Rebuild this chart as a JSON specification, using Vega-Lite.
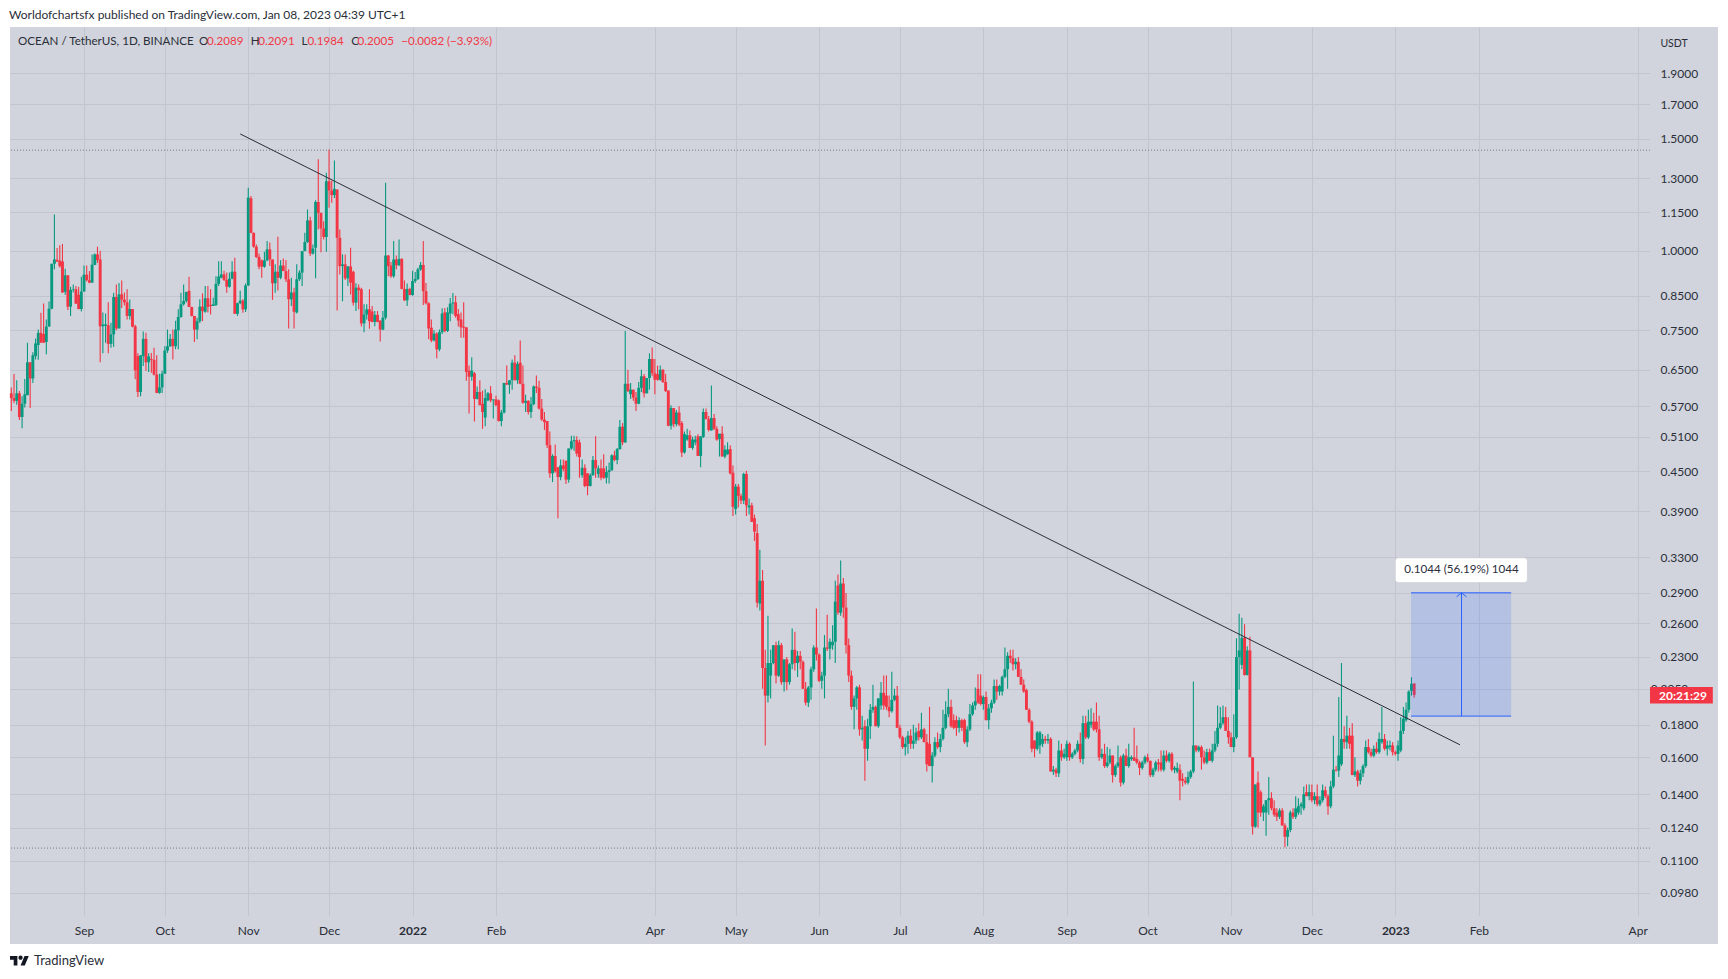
{
"$schema":"https://vega.github.io/schema/vega-lite/v6.json",
"width":1640,"height":889,"autosize":{"type":"none"},
"padding":{"left":10,"top":27,"right":78,"bottom":63},
"background":"#ffffff",
"view":{"fill":"#d1d4dc","stroke":null},
"config":{"font":"Lato","text":{"font":"Lato"}},
"resolve":{"axis":{"x":"independent","y":"independent"}},
"datasets":{"candles":[
{"d":"2021-08-05","o":0.597,"h":0.61,"l":0.56,"c":0.587},
{"d":"2021-08-06","o":0.587,"h":0.64,"l":0.576,"c":0.581},
{"d":"2021-08-07","o":0.581,"h":0.626,"l":0.573,"c":0.597},
{"d":"2021-08-08","o":0.597,"h":0.602,"l":0.542,"c":0.548},
{"d":"2021-08-09","o":0.548,"h":0.591,"l":0.526,"c":0.575},
{"d":"2021-08-10","o":0.575,"h":0.629,"l":0.567,"c":0.595},
{"d":"2021-08-11","o":0.593,"h":0.717,"l":0.593,"c":0.668},
{"d":"2021-08-12","o":0.668,"h":0.668,"l":0.566,"c":0.63},
{"d":"2021-08-13","o":0.63,"h":0.693,"l":0.62,"c":0.685},
{"d":"2021-08-14","o":0.683,"h":0.728,"l":0.675,"c":0.715},
{"d":"2021-08-15","o":0.711,"h":0.752,"l":0.674,"c":0.743},
{"d":"2021-08-16","o":0.743,"h":0.799,"l":0.717,"c":0.717},
{"d":"2021-08-17","o":0.74,"h":0.826,"l":0.717,"c":0.717},
{"d":"2021-08-18","o":0.719,"h":0.78,"l":0.688,"c":0.76},
{"d":"2021-08-19","o":0.76,"h":0.832,"l":0.76,"c":0.811},
{"d":"2021-08-20","o":0.811,"h":0.954,"l":0.809,"c":0.954},
{"d":"2021-08-21","o":0.954,"h":1.14,"l":0.935,"c":0.969},
{"d":"2021-08-22","o":0.968,"h":1.01,"l":0.96,"c":0.962},
{"d":"2021-08-23","o":0.965,"h":1.02,"l":0.94,"c":0.946},
{"d":"2021-08-24","o":0.962,"h":1.025,"l":0.859,"c":0.86},
{"d":"2021-08-25","o":0.862,"h":0.937,"l":0.853,"c":0.915},
{"d":"2021-08-26","o":0.915,"h":0.915,"l":0.807,"c":0.817},
{"d":"2021-08-27","o":0.817,"h":0.878,"l":0.79,"c":0.868},
{"d":"2021-08-28","o":0.868,"h":0.885,"l":0.86,"c":0.87},
{"d":"2021-08-29","o":0.87,"h":0.88,"l":0.825,"c":0.826},
{"d":"2021-08-30","o":0.853,"h":0.878,"l":0.809,"c":0.81},
{"d":"2021-08-31","o":0.81,"h":0.91,"l":0.803,"c":0.863},
{"d":"2021-09-01","o":0.863,"h":0.948,"l":0.863,"c":0.917},
{"d":"2021-09-02","o":0.917,"h":0.948,"l":0.895,"c":0.899},
{"d":"2021-09-03","o":0.899,"h":0.929,"l":0.889,"c":0.891},
{"d":"2021-09-04","o":0.891,"h":0.987,"l":0.891,"c":0.951},
{"d":"2021-09-05","o":0.95,"h":0.99,"l":0.949,"c":0.987},
{"d":"2021-09-06","o":0.987,"h":1.015,"l":0.957,"c":0.967},
{"d":"2021-09-07","o":0.969,"h":1.0,"l":0.668,"c":0.761},
{"d":"2021-09-08","o":0.761,"h":0.8,"l":0.69,"c":0.766},
{"d":"2021-09-09","o":0.762,"h":0.797,"l":0.717,"c":0.766},
{"d":"2021-09-10","o":0.764,"h":0.83,"l":0.69,"c":0.714},
{"d":"2021-09-11","o":0.714,"h":0.771,"l":0.704,"c":0.739},
{"d":"2021-09-12","o":0.739,"h":0.859,"l":0.706,"c":0.846},
{"d":"2021-09-13","o":0.846,"h":0.885,"l":0.75,"c":0.755},
{"d":"2021-09-14","o":0.755,"h":0.89,"l":0.755,"c":0.854},
{"d":"2021-09-15","o":0.854,"h":0.898,"l":0.813,"c":0.838},
{"d":"2021-09-16","o":0.838,"h":0.86,"l":0.82,"c":0.83},
{"d":"2021-09-17","o":0.83,"h":0.87,"l":0.78,"c":0.79},
{"d":"2021-09-18","o":0.79,"h":0.838,"l":0.78,"c":0.81},
{"d":"2021-09-19","o":0.81,"h":0.81,"l":0.758,"c":0.76},
{"d":"2021-09-20","o":0.761,"h":0.765,"l":0.628,"c":0.649},
{"d":"2021-09-21","o":0.683,"h":0.69,"l":0.589,"c":0.6},
{"d":"2021-09-22","o":0.6,"h":0.685,"l":0.591,"c":0.685},
{"d":"2021-09-23","o":0.683,"h":0.747,"l":0.659,"c":0.727},
{"d":"2021-09-24","o":0.727,"h":0.743,"l":0.648,"c":0.668},
{"d":"2021-09-25","o":0.668,"h":0.69,"l":0.645,"c":0.682},
{"d":"2021-09-26","o":0.676,"h":0.691,"l":0.643,"c":0.674},
{"d":"2021-09-27","o":0.674,"h":0.704,"l":0.637,"c":0.639},
{"d":"2021-09-28","o":0.639,"h":0.685,"l":0.597,"c":0.598},
{"d":"2021-09-29","o":0.598,"h":0.641,"l":0.596,"c":0.61},
{"d":"2021-09-30","o":0.61,"h":0.648,"l":0.598,"c":0.641},
{"d":"2021-10-01","o":0.641,"h":0.708,"l":0.641,"c":0.697},
{"d":"2021-10-02","o":0.697,"h":0.752,"l":0.691,"c":0.708},
{"d":"2021-10-03","o":0.708,"h":0.74,"l":0.706,"c":0.727},
{"d":"2021-10-04","o":0.727,"h":0.752,"l":0.675,"c":0.708},
{"d":"2021-10-05","o":0.708,"h":0.776,"l":0.7,"c":0.752},
{"d":"2021-10-06","o":0.75,"h":0.809,"l":0.7,"c":0.787},
{"d":"2021-10-07","o":0.787,"h":0.859,"l":0.785,"c":0.824},
{"d":"2021-10-08","o":0.824,"h":0.885,"l":0.82,"c":0.834},
{"d":"2021-10-09","o":0.834,"h":0.86,"l":0.829,"c":0.862},
{"d":"2021-10-10","o":0.865,"h":0.91,"l":0.816,"c":0.816},
{"d":"2021-10-11","o":0.816,"h":0.817,"l":0.788,"c":0.79},
{"d":"2021-10-12","o":0.79,"h":0.79,"l":0.719,"c":0.752},
{"d":"2021-10-13","o":0.752,"h":0.785,"l":0.726,"c":0.775},
{"d":"2021-10-14","o":0.775,"h":0.839,"l":0.77,"c":0.817},
{"d":"2021-10-15","o":0.817,"h":0.857,"l":0.775,"c":0.804},
{"d":"2021-10-16","o":0.802,"h":0.88,"l":0.799,"c":0.842},
{"d":"2021-10-17","o":0.842,"h":0.88,"l":0.8,"c":0.816},
{"d":"2021-10-18","o":0.822,"h":0.87,"l":0.794,"c":0.819},
{"d":"2021-10-19","o":0.819,"h":0.844,"l":0.819,"c":0.824},
{"d":"2021-10-20","o":0.822,"h":0.912,"l":0.819,"c":0.887},
{"d":"2021-10-21","o":0.887,"h":0.963,"l":0.88,"c":0.911},
{"d":"2021-10-22","o":0.907,"h":0.963,"l":0.905,"c":0.918},
{"d":"2021-10-23","o":0.918,"h":0.93,"l":0.896,"c":0.9},
{"d":"2021-10-24","o":0.9,"h":0.924,"l":0.859,"c":0.878},
{"d":"2021-10-25","o":0.878,"h":0.924,"l":0.875,"c":0.904},
{"d":"2021-10-26","o":0.904,"h":0.963,"l":0.902,"c":0.927},
{"d":"2021-10-27","o":0.927,"h":0.975,"l":0.796,"c":0.796},
{"d":"2021-10-28","o":0.796,"h":0.829,"l":0.79,"c":0.827},
{"d":"2021-10-29","o":0.827,"h":0.865,"l":0.824,"c":0.835},
{"d":"2021-10-30","o":0.835,"h":0.839,"l":0.799,"c":0.809},
{"d":"2021-10-31","o":0.809,"h":0.888,"l":0.801,"c":0.882},
{"d":"2021-11-01","o":0.882,"h":1.256,"l":0.88,"c":1.212},
{"d":"2021-11-02","o":1.209,"h":1.219,"l":1.065,"c":1.067},
{"d":"2021-11-03","o":1.067,"h":1.068,"l":1.011,"c":1.015},
{"d":"2021-11-04","o":1.015,"h":1.023,"l":0.975,"c":0.977},
{"d":"2021-11-05","o":0.978,"h":0.99,"l":0.935,"c":0.944},
{"d":"2021-11-06","o":0.966,"h":0.969,"l":0.907,"c":0.944},
{"d":"2021-11-07","o":0.944,"h":0.996,"l":0.94,"c":0.966},
{"d":"2021-11-08","o":0.966,"h":1.036,"l":0.963,"c":1.005},
{"d":"2021-11-09","o":1.005,"h":1.03,"l":0.946,"c":0.969},
{"d":"2021-11-10","o":0.969,"h":0.969,"l":0.837,"c":0.889},
{"d":"2021-11-11","o":0.889,"h":0.952,"l":0.859,"c":0.927},
{"d":"2021-11-12","o":0.927,"h":1.052,"l":0.866,"c":0.907},
{"d":"2021-11-13","o":0.907,"h":0.966,"l":0.902,"c":0.948},
{"d":"2021-11-14","o":0.948,"h":0.972,"l":0.929,"c":0.929},
{"d":"2021-11-15","o":0.929,"h":0.967,"l":0.893,"c":0.902},
{"d":"2021-11-16","o":0.902,"h":0.935,"l":0.755,"c":0.839},
{"d":"2021-11-17","o":0.839,"h":0.907,"l":0.819,"c":0.86},
{"d":"2021-11-18","o":0.86,"h":0.875,"l":0.755,"c":0.802},
{"d":"2021-11-19","o":0.8,"h":0.952,"l":0.797,"c":0.902},
{"d":"2021-11-20","o":0.902,"h":0.932,"l":0.896,"c":0.924},
{"d":"2021-11-21","o":0.924,"h":0.999,"l":0.88,"c":0.999},
{"d":"2021-11-22","o":0.999,"h":1.067,"l":0.998,"c":1.032},
{"d":"2021-11-23","o":1.032,"h":1.161,"l":1.029,"c":1.116},
{"d":"2021-11-24","o":1.116,"h":1.131,"l":0.981,"c":0.99},
{"d":"2021-11-25","o":0.99,"h":1.023,"l":0.987,"c":1.008},
{"d":"2021-11-26","o":1.011,"h":1.201,"l":0.905,"c":1.193},
{"d":"2021-11-27","o":1.193,"h":1.392,"l":1.08,"c":1.147},
{"d":"2021-11-28","o":1.147,"h":1.147,"l":0.995,"c":1.084},
{"d":"2021-11-29","o":1.084,"h":1.113,"l":1.042,"c":1.051},
{"d":"2021-11-30","o":1.051,"h":1.326,"l":0.996,"c":1.286},
{"d":"2021-12-01","o":1.286,"h":1.442,"l":1.168,"c":1.244},
{"d":"2021-12-02","o":1.244,"h":1.29,"l":1.19,"c":1.223},
{"d":"2021-12-03","o":1.223,"h":1.386,"l":1.21,"c":1.251},
{"d":"2021-12-04","o":1.248,"h":1.248,"l":0.806,"c":1.048},
{"d":"2021-12-05","o":1.048,"h":1.08,"l":0.918,"c":0.946},
{"d":"2021-12-06","o":0.946,"h":0.987,"l":0.833,"c":0.952},
{"d":"2021-12-07","o":0.952,"h":0.987,"l":0.9,"c":0.905},
{"d":"2021-12-08","o":0.905,"h":0.945,"l":0.88,"c":0.945},
{"d":"2021-12-09","o":0.945,"h":1.011,"l":0.854,"c":0.891},
{"d":"2021-12-10","o":0.927,"h":0.93,"l":0.82,"c":0.829},
{"d":"2021-12-11","o":0.829,"h":0.889,"l":0.804,"c":0.875},
{"d":"2021-12-12","o":0.875,"h":0.885,"l":0.809,"c":0.867},
{"d":"2021-12-13","o":0.87,"h":0.875,"l":0.76,"c":0.769},
{"d":"2021-12-14","o":0.769,"h":0.824,"l":0.745,"c":0.794},
{"d":"2021-12-15","o":0.794,"h":0.824,"l":0.78,"c":0.809},
{"d":"2021-12-16","o":0.809,"h":0.87,"l":0.754,"c":0.775},
{"d":"2021-12-17","o":0.803,"h":0.819,"l":0.772,"c":0.773},
{"d":"2021-12-18","o":0.773,"h":0.804,"l":0.761,"c":0.793},
{"d":"2021-12-19","o":0.793,"h":0.804,"l":0.772,"c":0.773},
{"d":"2021-12-20","o":0.777,"h":0.777,"l":0.72,"c":0.752},
{"d":"2021-12-21","o":0.752,"h":0.804,"l":0.75,"c":0.785},
{"d":"2021-12-22","o":0.785,"h":1.279,"l":0.78,"c":0.983},
{"d":"2021-12-23","o":0.983,"h":0.985,"l":0.912,"c":0.946},
{"d":"2021-12-24","o":0.948,"h":0.96,"l":0.907,"c":0.912},
{"d":"2021-12-25","o":0.912,"h":1.036,"l":0.907,"c":0.969},
{"d":"2021-12-26","o":0.969,"h":0.983,"l":0.935,"c":0.949},
{"d":"2021-12-27","o":0.949,"h":1.042,"l":0.946,"c":0.971},
{"d":"2021-12-28","o":0.971,"h":0.973,"l":0.87,"c":0.871},
{"d":"2021-12-29","o":0.871,"h":0.898,"l":0.834,"c":0.836},
{"d":"2021-12-30","o":0.836,"h":0.888,"l":0.819,"c":0.871},
{"d":"2021-12-31","o":0.871,"h":0.875,"l":0.851,"c":0.852},
{"d":"2022-01-01","o":0.852,"h":0.93,"l":0.85,"c":0.896},
{"d":"2022-01-02","o":0.896,"h":0.926,"l":0.89,"c":0.903},
{"d":"2022-01-03","o":0.903,"h":0.94,"l":0.9,"c":0.935},
{"d":"2022-01-04","o":0.935,"h":0.96,"l":0.93,"c":0.95},
{"d":"2022-01-05","o":0.95,"h":1.036,"l":0.822,"c":0.864},
{"d":"2022-01-06","o":0.864,"h":0.89,"l":0.823,"c":0.827},
{"d":"2022-01-07","o":0.827,"h":0.83,"l":0.726,"c":0.755},
{"d":"2022-01-08","o":0.757,"h":0.78,"l":0.718,"c":0.723},
{"d":"2022-01-09","o":0.723,"h":0.75,"l":0.72,"c":0.741},
{"d":"2022-01-10","o":0.741,"h":0.745,"l":0.678,"c":0.7},
{"d":"2022-01-11","o":0.7,"h":0.752,"l":0.695,"c":0.745},
{"d":"2022-01-12","o":0.745,"h":0.812,"l":0.74,"c":0.797},
{"d":"2022-01-13","o":0.8,"h":0.813,"l":0.745,"c":0.748},
{"d":"2022-01-14","o":0.748,"h":0.815,"l":0.745,"c":0.8},
{"d":"2022-01-15","o":0.797,"h":0.843,"l":0.775,"c":0.826},
{"d":"2022-01-16","o":0.826,"h":0.858,"l":0.795,"c":0.829},
{"d":"2022-01-17","o":0.83,"h":0.85,"l":0.785,"c":0.79},
{"d":"2022-01-18","o":0.795,"h":0.81,"l":0.76,"c":0.777},
{"d":"2022-01-19","o":0.78,"h":0.8,"l":0.73,"c":0.758},
{"d":"2022-01-20","o":0.76,"h":0.83,"l":0.73,"c":0.757},
{"d":"2022-01-21","o":0.758,"h":0.758,"l":0.625,"c":0.645},
{"d":"2022-01-22","o":0.648,"h":0.66,"l":0.555,"c":0.634},
{"d":"2022-01-23","o":0.634,"h":0.68,"l":0.625,"c":0.648},
{"d":"2022-01-24","o":0.642,"h":0.645,"l":0.539,"c":0.585},
{"d":"2022-01-25","o":0.585,"h":0.612,"l":0.584,"c":0.6},
{"d":"2022-01-26","o":0.6,"h":0.626,"l":0.572,"c":0.572},
{"d":"2022-01-27","o":0.575,"h":0.603,"l":0.525,"c":0.558},
{"d":"2022-01-28","o":0.547,"h":0.606,"l":0.53,"c":0.587},
{"d":"2022-01-29","o":0.582,"h":0.6,"l":0.58,"c":0.597},
{"d":"2022-01-30","o":0.597,"h":0.613,"l":0.578,"c":0.582},
{"d":"2022-01-31","o":0.582,"h":0.584,"l":0.545,"c":0.584},
{"d":"2022-02-01","o":0.584,"h":0.592,"l":0.57,"c":0.572},
{"d":"2022-02-02","o":0.582,"h":0.584,"l":0.539,"c":0.54},
{"d":"2022-02-03","o":0.54,"h":0.562,"l":0.53,"c":0.557},
{"d":"2022-02-04","o":0.557,"h":0.62,"l":0.555,"c":0.62},
{"d":"2022-02-05","o":0.62,"h":0.66,"l":0.616,"c":0.616},
{"d":"2022-02-06","o":0.616,"h":0.626,"l":0.596,"c":0.626},
{"d":"2022-02-07","o":0.626,"h":0.675,"l":0.605,"c":0.667},
{"d":"2022-02-08","o":0.667,"h":0.685,"l":0.626,"c":0.626},
{"d":"2022-02-09","o":0.626,"h":0.67,"l":0.618,"c":0.664},
{"d":"2022-02-10","o":0.667,"h":0.723,"l":0.617,"c":0.618},
{"d":"2022-02-11","o":0.618,"h":0.66,"l":0.575,"c":0.577},
{"d":"2022-02-12","o":0.577,"h":0.594,"l":0.558,"c":0.581},
{"d":"2022-02-13","o":0.581,"h":0.582,"l":0.553,"c":0.558},
{"d":"2022-02-14","o":0.558,"h":0.589,"l":0.546,"c":0.574},
{"d":"2022-02-15","o":0.574,"h":0.614,"l":0.572,"c":0.612},
{"d":"2022-02-16","o":0.612,"h":0.637,"l":0.598,"c":0.609},
{"d":"2022-02-17","o":0.609,"h":0.625,"l":0.563,"c":0.565},
{"d":"2022-02-18","o":0.565,"h":0.585,"l":0.54,"c":0.543},
{"d":"2022-02-19","o":0.543,"h":0.558,"l":0.523,"c":0.538},
{"d":"2022-02-20","o":0.54,"h":0.54,"l":0.49,"c":0.495},
{"d":"2022-02-21","o":0.495,"h":0.52,"l":0.44,"c":0.447},
{"d":"2022-02-22","o":0.447,"h":0.479,"l":0.433,"c":0.476},
{"d":"2022-02-23","o":0.476,"h":0.496,"l":0.448,"c":0.45},
{"d":"2022-02-24","o":0.457,"h":0.457,"l":0.38,"c":0.441},
{"d":"2022-02-25","o":0.441,"h":0.47,"l":0.436,"c":0.46},
{"d":"2022-02-26","o":0.46,"h":0.47,"l":0.45,"c":0.454},
{"d":"2022-02-27","o":0.468,"h":0.468,"l":0.43,"c":0.437},
{"d":"2022-02-28","o":0.437,"h":0.489,"l":0.432,"c":0.489},
{"d":"2022-03-01","o":0.489,"h":0.512,"l":0.487,"c":0.502},
{"d":"2022-03-02","o":0.502,"h":0.512,"l":0.485,"c":0.504},
{"d":"2022-03-03","o":0.504,"h":0.511,"l":0.475,"c":0.48},
{"d":"2022-03-04","o":0.5,"h":0.505,"l":0.44,"c":0.474},
{"d":"2022-03-05","o":0.444,"h":0.47,"l":0.44,"c":0.456},
{"d":"2022-03-06","o":0.456,"h":0.462,"l":0.425,"c":0.427},
{"d":"2022-03-07","o":0.447,"h":0.447,"l":0.413,"c":0.427},
{"d":"2022-03-08","o":0.427,"h":0.447,"l":0.426,"c":0.444},
{"d":"2022-03-09","o":0.444,"h":0.476,"l":0.443,"c":0.469},
{"d":"2022-03-10","o":0.469,"h":0.511,"l":0.44,"c":0.455},
{"d":"2022-03-11","o":0.446,"h":0.46,"l":0.44,"c":0.455},
{"d":"2022-03-12","o":0.455,"h":0.47,"l":0.436,"c":0.44},
{"d":"2022-03-13","o":0.455,"h":0.479,"l":0.438,"c":0.44},
{"d":"2022-03-14","o":0.44,"h":0.459,"l":0.431,"c":0.449},
{"d":"2022-03-15","o":0.449,"h":0.465,"l":0.431,"c":0.452},
{"d":"2022-03-16","o":0.452,"h":0.479,"l":0.451,"c":0.477},
{"d":"2022-03-17","o":0.477,"h":0.485,"l":0.467,"c":0.469},
{"d":"2022-03-18","o":0.469,"h":0.49,"l":0.462,"c":0.488},
{"d":"2022-03-19","o":0.488,"h":0.542,"l":0.487,"c":0.529},
{"d":"2022-03-20","o":0.529,"h":0.536,"l":0.495,"c":0.5},
{"d":"2022-03-21","o":0.5,"h":0.748,"l":0.499,"c":0.618},
{"d":"2022-03-22","o":0.618,"h":0.65,"l":0.6,"c":0.602},
{"d":"2022-03-23","o":0.595,"h":0.62,"l":0.585,"c":0.605},
{"d":"2022-03-24","o":0.605,"h":0.605,"l":0.581,"c":0.588},
{"d":"2022-03-25","o":0.588,"h":0.6,"l":0.56,"c":0.575},
{"d":"2022-03-26","o":0.575,"h":0.622,"l":0.574,"c":0.609},
{"d":"2022-03-27","o":0.609,"h":0.65,"l":0.6,"c":0.635},
{"d":"2022-03-28","o":0.635,"h":0.64,"l":0.588,"c":0.597},
{"d":"2022-03-29","o":0.597,"h":0.631,"l":0.597,"c":0.631},
{"d":"2022-03-30","o":0.631,"h":0.69,"l":0.605,"c":0.676},
{"d":"2022-03-31","o":0.676,"h":0.705,"l":0.635,"c":0.642},
{"d":"2022-04-01","o":0.642,"h":0.676,"l":0.595,"c":0.627},
{"d":"2022-04-02","o":0.64,"h":0.66,"l":0.625,"c":0.627},
{"d":"2022-04-03","o":0.627,"h":0.66,"l":0.625,"c":0.65},
{"d":"2022-04-04","o":0.65,"h":0.652,"l":0.62,"c":0.622},
{"d":"2022-04-05","o":0.622,"h":0.64,"l":0.6,"c":0.602},
{"d":"2022-04-06","o":0.603,"h":0.603,"l":0.53,"c":0.531},
{"d":"2022-04-07","o":0.531,"h":0.572,"l":0.524,"c":0.566},
{"d":"2022-04-08","o":0.566,"h":0.566,"l":0.528,"c":0.534},
{"d":"2022-04-09","o":0.534,"h":0.562,"l":0.53,"c":0.557},
{"d":"2022-04-10","o":0.557,"h":0.57,"l":0.53,"c":0.533},
{"d":"2022-04-11","o":0.536,"h":0.54,"l":0.474,"c":0.482},
{"d":"2022-04-12","o":0.482,"h":0.52,"l":0.48,"c":0.515},
{"d":"2022-04-13","o":0.505,"h":0.525,"l":0.503,"c":0.513},
{"d":"2022-04-14","o":0.513,"h":0.522,"l":0.49,"c":0.49},
{"d":"2022-04-15","o":0.49,"h":0.51,"l":0.487,"c":0.505},
{"d":"2022-04-16","o":0.5,"h":0.512,"l":0.495,"c":0.505},
{"d":"2022-04-17","o":0.511,"h":0.515,"l":0.476,"c":0.476},
{"d":"2022-04-18","o":0.476,"h":0.511,"l":0.457,"c":0.511},
{"d":"2022-04-19","o":0.51,"h":0.565,"l":0.508,"c":0.558},
{"d":"2022-04-20","o":0.558,"h":0.565,"l":0.543,"c":0.544},
{"d":"2022-04-21","o":0.544,"h":0.55,"l":0.52,"c":0.523},
{"d":"2022-04-22","o":0.522,"h":0.614,"l":0.522,"c":0.546},
{"d":"2022-04-23","o":0.546,"h":0.554,"l":0.523,"c":0.525},
{"d":"2022-04-24","o":0.525,"h":0.53,"l":0.503,"c":0.505},
{"d":"2022-04-25","o":0.506,"h":0.515,"l":0.475,"c":0.516},
{"d":"2022-04-26","o":0.516,"h":0.53,"l":0.475,"c":0.475},
{"d":"2022-04-27","o":0.475,"h":0.495,"l":0.472,"c":0.487},
{"d":"2022-04-28","o":0.479,"h":0.5,"l":0.478,"c":0.487},
{"d":"2022-04-29","o":0.488,"h":0.495,"l":0.445,"c":0.447},
{"d":"2022-04-30","o":0.448,"h":0.46,"l":0.383,"c":0.396},
{"d":"2022-05-01","o":0.393,"h":0.43,"l":0.385,"c":0.426},
{"d":"2022-05-02","o":0.426,"h":0.43,"l":0.395,"c":0.412},
{"d":"2022-05-03","o":0.412,"h":0.415,"l":0.4,"c":0.405},
{"d":"2022-05-04","o":0.405,"h":0.448,"l":0.4,"c":0.446},
{"d":"2022-05-05","o":0.446,"h":0.451,"l":0.383,"c":0.398},
{"d":"2022-05-06","o":0.395,"h":0.408,"l":0.385,"c":0.398},
{"d":"2022-05-07","o":0.398,"h":0.402,"l":0.375,"c":0.375},
{"d":"2022-05-08","o":0.38,"h":0.385,"l":0.35,"c":0.362},
{"d":"2022-05-09","o":0.36,"h":0.372,"l":0.275,"c":0.28},
{"d":"2022-05-10","o":0.279,"h":0.339,"l":0.272,"c":0.303},
{"d":"2022-05-11","o":0.303,"h":0.315,"l":0.205,"c":0.221},
{"d":"2022-05-12","o":0.221,"h":0.236,"l":0.167,"c":0.2},
{"d":"2022-05-13","o":0.2,"h":0.267,"l":0.195,"c":0.225},
{"d":"2022-05-14","o":0.215,"h":0.236,"l":0.198,"c":0.225},
{"d":"2022-05-15","o":0.225,"h":0.24,"l":0.224,"c":0.24},
{"d":"2022-05-16","o":0.24,"h":0.243,"l":0.209,"c":0.215},
{"d":"2022-05-17","o":0.215,"h":0.244,"l":0.214,"c":0.24},
{"d":"2022-05-18","o":0.24,"h":0.242,"l":0.208,"c":0.21},
{"d":"2022-05-19","o":0.21,"h":0.228,"l":0.203,"c":0.228},
{"d":"2022-05-20","o":0.228,"h":0.23,"l":0.204,"c":0.21},
{"d":"2022-05-21","o":0.21,"h":0.225,"l":0.208,"c":0.224},
{"d":"2022-05-22","o":0.224,"h":0.255,"l":0.22,"c":0.236},
{"d":"2022-05-23","o":0.236,"h":0.252,"l":0.219,"c":0.225},
{"d":"2022-05-24","o":0.225,"h":0.235,"l":0.214,"c":0.231},
{"d":"2022-05-25","o":0.231,"h":0.235,"l":0.22,"c":0.226},
{"d":"2022-05-26","o":0.226,"h":0.227,"l":0.205,"c":0.205},
{"d":"2022-05-27","o":0.205,"h":0.21,"l":0.193,"c":0.195},
{"d":"2022-05-28","o":0.195,"h":0.207,"l":0.192,"c":0.206},
{"d":"2022-05-29","o":0.206,"h":0.222,"l":0.197,"c":0.22},
{"d":"2022-05-30","o":0.22,"h":0.24,"l":0.218,"c":0.238},
{"d":"2022-05-31","o":0.238,"h":0.274,"l":0.227,"c":0.232},
{"d":"2022-06-01","o":0.232,"h":0.233,"l":0.21,"c":0.211},
{"d":"2022-06-02","o":0.211,"h":0.218,"l":0.205,"c":0.215},
{"d":"2022-06-03","o":0.215,"h":0.249,"l":0.198,"c":0.238},
{"d":"2022-06-04","o":0.238,"h":0.268,"l":0.235,"c":0.237},
{"d":"2022-06-05","o":0.237,"h":0.246,"l":0.228,"c":0.243},
{"d":"2022-06-06","o":0.24,"h":0.258,"l":0.236,"c":0.243},
{"d":"2022-06-07","o":0.243,"h":0.303,"l":0.225,"c":0.281},
{"d":"2022-06-08","o":0.298,"h":0.31,"l":0.268,"c":0.27},
{"d":"2022-06-09","o":0.27,"h":0.326,"l":0.267,"c":0.3},
{"d":"2022-06-10","o":0.3,"h":0.306,"l":0.265,"c":0.275},
{"d":"2022-06-11","o":0.275,"h":0.29,"l":0.233,"c":0.24},
{"d":"2022-06-12","o":0.24,"h":0.246,"l":0.21,"c":0.215},
{"d":"2022-06-13","o":0.215,"h":0.219,"l":0.19,"c":0.192},
{"d":"2022-06-14","o":0.192,"h":0.2,"l":0.177,"c":0.198},
{"d":"2022-06-15","o":0.198,"h":0.207,"l":0.19,"c":0.206},
{"d":"2022-06-16","o":0.206,"h":0.208,"l":0.173,"c":0.177},
{"d":"2022-06-17","o":0.177,"h":0.186,"l":0.17,"c":0.178},
{"d":"2022-06-18","o":0.179,"h":0.183,"l":0.147,"c":0.165},
{"d":"2022-06-19","o":0.165,"h":0.184,"l":0.158,"c":0.179},
{"d":"2022-06-20","o":0.179,"h":0.194,"l":0.171,"c":0.19},
{"d":"2022-06-21","o":0.19,"h":0.208,"l":0.188,"c":0.192},
{"d":"2022-06-22","o":0.192,"h":0.193,"l":0.179,"c":0.179},
{"d":"2022-06-23","o":0.179,"h":0.198,"l":0.178,"c":0.198},
{"d":"2022-06-24","o":0.193,"h":0.21,"l":0.19,"c":0.202},
{"d":"2022-06-25","o":0.202,"h":0.215,"l":0.19,"c":0.193},
{"d":"2022-06-26","o":0.2,"h":0.215,"l":0.19,"c":0.192},
{"d":"2022-06-27","o":0.192,"h":0.2,"l":0.185,"c":0.189},
{"d":"2022-06-28","o":0.189,"h":0.218,"l":0.188,"c":0.197},
{"d":"2022-06-29","o":0.197,"h":0.205,"l":0.196,"c":0.2},
{"d":"2022-06-30","o":0.2,"h":0.207,"l":0.178,"c":0.178},
{"d":"2022-07-01","o":0.178,"h":0.18,"l":0.171,"c":0.172},
{"d":"2022-07-02","o":0.172,"h":0.173,"l":0.165,"c":0.166},
{"d":"2022-07-03","o":0.166,"h":0.172,"l":0.161,"c":0.168},
{"d":"2022-07-04","o":0.168,"h":0.176,"l":0.162,"c":0.173},
{"d":"2022-07-05","o":0.173,"h":0.177,"l":0.165,"c":0.168},
{"d":"2022-07-06","o":0.168,"h":0.18,"l":0.165,"c":0.17},
{"d":"2022-07-07","o":0.17,"h":0.178,"l":0.168,"c":0.175},
{"d":"2022-07-08","o":0.176,"h":0.181,"l":0.17,"c":0.172},
{"d":"2022-07-09","o":0.172,"h":0.188,"l":0.171,"c":0.177},
{"d":"2022-07-10","o":0.177,"h":0.178,"l":0.169,"c":0.169},
{"d":"2022-07-11","o":0.169,"h":0.174,"l":0.152,"c":0.156},
{"d":"2022-07-12","o":0.168,"h":0.192,"l":0.155,"c":0.155},
{"d":"2022-07-13","o":0.155,"h":0.163,"l":0.146,"c":0.161},
{"d":"2022-07-14","o":0.161,"h":0.172,"l":0.16,"c":0.169},
{"d":"2022-07-15","o":0.169,"h":0.175,"l":0.165,"c":0.166},
{"d":"2022-07-16","o":0.166,"h":0.174,"l":0.163,"c":0.171},
{"d":"2022-07-17","o":0.171,"h":0.19,"l":0.17,"c":0.178},
{"d":"2022-07-18","o":0.178,"h":0.196,"l":0.177,"c":0.187},
{"d":"2022-07-19","o":0.187,"h":0.205,"l":0.185,"c":0.192},
{"d":"2022-07-20","o":0.192,"h":0.197,"l":0.178,"c":0.179},
{"d":"2022-07-21","o":0.183,"h":0.187,"l":0.177,"c":0.178},
{"d":"2022-07-22","o":0.183,"h":0.186,"l":0.173,"c":0.178},
{"d":"2022-07-23","o":0.178,"h":0.185,"l":0.175,"c":0.183},
{"d":"2022-07-24","o":0.183,"h":0.184,"l":0.176,"c":0.178},
{"d":"2022-07-25","o":0.183,"h":0.184,"l":0.168,"c":0.169},
{"d":"2022-07-26","o":0.169,"h":0.179,"l":0.166,"c":0.177},
{"d":"2022-07-27","o":0.177,"h":0.194,"l":0.176,"c":0.187},
{"d":"2022-07-28","o":0.187,"h":0.195,"l":0.186,"c":0.193},
{"d":"2022-07-29","o":0.193,"h":0.206,"l":0.19,"c":0.196},
{"d":"2022-07-30","o":0.205,"h":0.216,"l":0.194,"c":0.195},
{"d":"2022-07-31","o":0.2,"h":0.216,"l":0.193,"c":0.194},
{"d":"2022-08-01","o":0.194,"h":0.2,"l":0.19,"c":0.199},
{"d":"2022-08-02","o":0.199,"h":0.203,"l":0.183,"c":0.183},
{"d":"2022-08-03","o":0.183,"h":0.194,"l":0.177,"c":0.191},
{"d":"2022-08-04","o":0.191,"h":0.197,"l":0.188,"c":0.195},
{"d":"2022-08-05","o":0.195,"h":0.212,"l":0.194,"c":0.207},
{"d":"2022-08-06","o":0.207,"h":0.212,"l":0.197,"c":0.203},
{"d":"2022-08-07","o":0.203,"h":0.208,"l":0.2,"c":0.207},
{"d":"2022-08-08","o":0.203,"h":0.215,"l":0.2,"c":0.214},
{"d":"2022-08-09","o":0.214,"h":0.238,"l":0.213,"c":0.22},
{"d":"2022-08-10","o":0.22,"h":0.234,"l":0.205,"c":0.231},
{"d":"2022-08-11","o":0.231,"h":0.236,"l":0.225,"c":0.229},
{"d":"2022-08-12","o":0.229,"h":0.236,"l":0.219,"c":0.224},
{"d":"2022-08-13","o":0.224,"h":0.229,"l":0.22,"c":0.226},
{"d":"2022-08-14","o":0.226,"h":0.23,"l":0.214,"c":0.214},
{"d":"2022-08-15","o":0.214,"h":0.22,"l":0.208,"c":0.208},
{"d":"2022-08-16","o":0.208,"h":0.212,"l":0.202,"c":0.203},
{"d":"2022-08-17","o":0.204,"h":0.205,"l":0.19,"c":0.19},
{"d":"2022-08-18","o":0.19,"h":0.191,"l":0.181,"c":0.182},
{"d":"2022-08-19","o":0.182,"h":0.183,"l":0.163,"c":0.165},
{"d":"2022-08-20","o":0.17,"h":0.17,"l":0.16,"c":0.165},
{"d":"2022-08-21","o":0.165,"h":0.176,"l":0.164,"c":0.175},
{"d":"2022-08-22","o":0.167,"h":0.176,"l":0.162,"c":0.175},
{"d":"2022-08-23","o":0.168,"h":0.174,"l":0.166,"c":0.171},
{"d":"2022-08-24","o":0.171,"h":0.173,"l":0.168,"c":0.17},
{"d":"2022-08-25","o":0.17,"h":0.174,"l":0.168,"c":0.171},
{"d":"2022-08-26","o":0.171,"h":0.172,"l":0.152,"c":0.152},
{"d":"2022-08-27","o":0.152,"h":0.155,"l":0.15,"c":0.153},
{"d":"2022-08-28","o":0.153,"h":0.154,"l":0.149,"c":0.151},
{"d":"2022-08-29","o":0.151,"h":0.17,"l":0.149,"c":0.164},
{"d":"2022-08-30","o":0.164,"h":0.168,"l":0.158,"c":0.16},
{"d":"2022-08-31","o":0.16,"h":0.165,"l":0.159,"c":0.162},
{"d":"2022-09-01","o":0.16,"h":0.17,"l":0.158,"c":0.168},
{"d":"2022-09-02","o":0.168,"h":0.169,"l":0.158,"c":0.16},
{"d":"2022-09-03","o":0.16,"h":0.163,"l":0.159,"c":0.162},
{"d":"2022-09-04","o":0.162,"h":0.165,"l":0.161,"c":0.164},
{"d":"2022-09-05","o":0.164,"h":0.17,"l":0.163,"c":0.168},
{"d":"2022-09-06","o":0.168,"h":0.175,"l":0.157,"c":0.159},
{"d":"2022-09-07","o":0.159,"h":0.186,"l":0.156,"c":0.181},
{"d":"2022-09-08","o":0.181,"h":0.186,"l":0.171,"c":0.172},
{"d":"2022-09-09","o":0.172,"h":0.19,"l":0.171,"c":0.182},
{"d":"2022-09-10","o":0.18,"h":0.191,"l":0.178,"c":0.182},
{"d":"2022-09-11","o":0.182,"h":0.188,"l":0.176,"c":0.177},
{"d":"2022-09-12","o":0.182,"h":0.195,"l":0.175,"c":0.177},
{"d":"2022-09-13","o":0.177,"h":0.186,"l":0.158,"c":0.16},
{"d":"2022-09-14","o":0.16,"h":0.165,"l":0.159,"c":0.162},
{"d":"2022-09-15","o":0.162,"h":0.168,"l":0.154,"c":0.155},
{"d":"2022-09-16","o":0.155,"h":0.166,"l":0.154,"c":0.157},
{"d":"2022-09-17","o":0.157,"h":0.165,"l":0.156,"c":0.161},
{"d":"2022-09-18","o":0.161,"h":0.161,"l":0.146,"c":0.15},
{"d":"2022-09-19","o":0.15,"h":0.156,"l":0.149,"c":0.155},
{"d":"2022-09-20","o":0.155,"h":0.167,"l":0.154,"c":0.157},
{"d":"2022-09-21","o":0.16,"h":0.161,"l":0.144,"c":0.146},
{"d":"2022-09-22","o":0.146,"h":0.162,"l":0.145,"c":0.161},
{"d":"2022-09-23","o":0.161,"h":0.165,"l":0.155,"c":0.155},
{"d":"2022-09-24","o":0.155,"h":0.168,"l":0.154,"c":0.16},
{"d":"2022-09-25","o":0.159,"h":0.161,"l":0.158,"c":0.16},
{"d":"2022-09-26","o":0.16,"h":0.178,"l":0.158,"c":0.158},
{"d":"2022-09-27","o":0.159,"h":0.167,"l":0.156,"c":0.157},
{"d":"2022-09-28","o":0.157,"h":0.158,"l":0.15,"c":0.154},
{"d":"2022-09-29","o":0.154,"h":0.158,"l":0.153,"c":0.157},
{"d":"2022-09-30","o":0.157,"h":0.161,"l":0.156,"c":0.16},
{"d":"2022-10-01","o":0.16,"h":0.162,"l":0.157,"c":0.158},
{"d":"2022-10-02","o":0.158,"h":0.158,"l":0.149,"c":0.15},
{"d":"2022-10-03","o":0.15,"h":0.154,"l":0.149,"c":0.153},
{"d":"2022-10-04","o":0.153,"h":0.158,"l":0.152,"c":0.157},
{"d":"2022-10-05","o":0.157,"h":0.159,"l":0.152,"c":0.156},
{"d":"2022-10-06","o":0.157,"h":0.164,"l":0.152,"c":0.153},
{"d":"2022-10-07","o":0.153,"h":0.164,"l":0.152,"c":0.161},
{"d":"2022-10-08","o":0.161,"h":0.164,"l":0.157,"c":0.158},
{"d":"2022-10-09","o":0.158,"h":0.163,"l":0.157,"c":0.162},
{"d":"2022-10-10","o":0.162,"h":0.163,"l":0.152,"c":0.153},
{"d":"2022-10-11","o":0.153,"h":0.155,"l":0.151,"c":0.154},
{"d":"2022-10-12","o":0.152,"h":0.157,"l":0.151,"c":0.154},
{"d":"2022-10-13","o":0.153,"h":0.156,"l":0.137,"c":0.147},
{"d":"2022-10-14","o":0.148,"h":0.151,"l":0.144,"c":0.147},
{"d":"2022-10-15","o":0.147,"h":0.149,"l":0.145,"c":0.146},
{"d":"2022-10-16","o":0.146,"h":0.152,"l":0.145,"c":0.149},
{"d":"2022-10-17","o":0.149,"h":0.153,"l":0.148,"c":0.152},
{"d":"2022-10-18","o":0.152,"h":0.2105,"l":0.151,"c":0.167},
{"d":"2022-10-19","o":0.167,"h":0.167,"l":0.163,"c":0.164},
{"d":"2022-10-20","o":0.164,"h":0.167,"l":0.163,"c":0.166},
{"d":"2022-10-21","o":0.166,"h":0.167,"l":0.153,"c":0.16},
{"d":"2022-10-22","o":0.16,"h":0.164,"l":0.156,"c":0.157},
{"d":"2022-10-23","o":0.157,"h":0.165,"l":0.156,"c":0.163},
{"d":"2022-10-24","o":0.163,"h":0.165,"l":0.158,"c":0.158},
{"d":"2022-10-25","o":0.158,"h":0.168,"l":0.157,"c":0.164},
{"d":"2022-10-26","o":0.164,"h":0.176,"l":0.163,"c":0.168},
{"d":"2022-10-27","o":0.168,"h":0.193,"l":0.166,"c":0.178},
{"d":"2022-10-28","o":0.178,"h":0.192,"l":0.177,"c":0.181},
{"d":"2022-10-29","o":0.181,"h":0.193,"l":0.18,"c":0.185},
{"d":"2022-10-30","o":0.185,"h":0.192,"l":0.176,"c":0.176},
{"d":"2022-10-31","o":0.176,"h":0.185,"l":0.168,"c":0.172},
{"d":"2022-11-01","o":0.172,"h":0.175,"l":0.166,"c":0.166},
{"d":"2022-11-02","o":0.166,"h":0.187,"l":0.163,"c":0.172},
{"d":"2022-11-03","o":0.172,"h":0.246,"l":0.171,"c":0.23},
{"d":"2022-11-04","o":0.23,"h":0.269,"l":0.2045,"c":0.2355},
{"d":"2022-11-05","o":0.2235,"h":0.265,"l":0.22,"c":0.2465},
{"d":"2022-11-06","o":0.2465,"h":0.259,"l":0.215,"c":0.2155},
{"d":"2022-11-07","o":0.2155,"h":0.239,"l":0.215,"c":0.2355},
{"d":"2022-11-08","o":0.2355,"h":0.2475,"l":0.16,"c":0.16},
{"d":"2022-11-09","o":0.16,"h":0.16,"l":0.121,"c":0.1245},
{"d":"2022-11-10","o":0.1245,"h":0.145,"l":0.124,"c":0.145},
{"d":"2022-11-11","o":0.146,"h":0.152,"l":0.124,"c":0.131},
{"d":"2022-11-12","o":0.141,"h":0.142,"l":0.129,"c":0.131},
{"d":"2022-11-13","o":0.131,"h":0.135,"l":0.127,"c":0.134},
{"d":"2022-11-14","o":0.131,"h":0.137,"l":0.1205,"c":0.137},
{"d":"2022-11-15","o":0.137,"h":0.149,"l":0.13,"c":0.138},
{"d":"2022-11-16","o":0.138,"h":0.141,"l":0.132,"c":0.133},
{"d":"2022-11-17","o":0.133,"h":0.137,"l":0.129,"c":0.13},
{"d":"2022-11-18","o":0.131,"h":0.133,"l":0.127,"c":0.129},
{"d":"2022-11-19","o":0.129,"h":0.133,"l":0.128,"c":0.132},
{"d":"2022-11-20","o":0.132,"h":0.133,"l":0.125,"c":0.125},
{"d":"2022-11-21","o":0.125,"h":0.126,"l":0.1155,"c":0.12},
{"d":"2022-11-22","o":0.12,"h":0.124,"l":0.116,"c":0.123},
{"d":"2022-11-23","o":0.123,"h":0.132,"l":0.122,"c":0.131},
{"d":"2022-11-24","o":0.131,"h":0.133,"l":0.128,"c":0.129},
{"d":"2022-11-25","o":0.129,"h":0.139,"l":0.128,"c":0.133},
{"d":"2022-11-26","o":0.131,"h":0.138,"l":0.13,"c":0.134},
{"d":"2022-11-27","o":0.134,"h":0.136,"l":0.13,"c":0.135},
{"d":"2022-11-28","o":0.133,"h":0.144,"l":0.132,"c":0.14},
{"d":"2022-11-29","o":0.141,"h":0.145,"l":0.139,"c":0.139},
{"d":"2022-11-30","o":0.139,"h":0.145,"l":0.137,"c":0.141},
{"d":"2022-12-01","o":0.141,"h":0.145,"l":0.136,"c":0.137},
{"d":"2022-12-02","o":0.137,"h":0.141,"l":0.135,"c":0.139},
{"d":"2022-12-03","o":0.139,"h":0.145,"l":0.134,"c":0.135},
{"d":"2022-12-04","o":0.135,"h":0.139,"l":0.134,"c":0.137},
{"d":"2022-12-05","o":0.137,"h":0.145,"l":0.136,"c":0.142},
{"d":"2022-12-06","o":0.142,"h":0.144,"l":0.138,"c":0.139},
{"d":"2022-12-07","o":0.139,"h":0.14,"l":0.13,"c":0.134},
{"d":"2022-12-08","o":0.134,"h":0.147,"l":0.133,"c":0.144},
{"d":"2022-12-09","o":0.144,"h":0.173,"l":0.143,"c":0.153},
{"d":"2022-12-10","o":0.153,"h":0.155,"l":0.152,"c":0.1525},
{"d":"2022-12-11","o":0.1525,"h":0.199,"l":0.149,"c":0.161},
{"d":"2022-12-12","o":0.156,"h":0.225,"l":0.155,"c":0.171},
{"d":"2022-12-13","o":0.171,"h":0.179,"l":0.165,"c":0.169},
{"d":"2022-12-14","o":0.169,"h":0.186,"l":0.165,"c":0.173},
{"d":"2022-12-15","o":0.173,"h":0.178,"l":0.165,"c":0.168},
{"d":"2022-12-16","o":0.173,"h":0.181,"l":0.15,"c":0.15},
{"d":"2022-12-17","o":0.15,"h":0.16,"l":0.149,"c":0.152},
{"d":"2022-12-18","o":0.152,"h":0.153,"l":0.144,"c":0.147},
{"d":"2022-12-19","o":0.147,"h":0.153,"l":0.145,"c":0.151},
{"d":"2022-12-20","o":0.151,"h":0.156,"l":0.149,"c":0.155},
{"d":"2022-12-21","o":0.155,"h":0.17,"l":0.154,"c":0.166},
{"d":"2022-12-22","o":0.166,"h":0.171,"l":0.162,"c":0.163},
{"d":"2022-12-23","o":0.163,"h":0.165,"l":0.16,"c":0.161},
{"d":"2022-12-24","o":0.161,"h":0.167,"l":0.16,"c":0.165},
{"d":"2022-12-25","o":0.165,"h":0.169,"l":0.162,"c":0.163},
{"d":"2022-12-26","o":0.163,"h":0.175,"l":0.162,"c":0.171},
{"d":"2022-12-27","o":0.169,"h":0.192,"l":0.168,"c":0.171},
{"d":"2022-12-28","o":0.171,"h":0.174,"l":0.164,"c":0.165},
{"d":"2022-12-29","o":0.165,"h":0.17,"l":0.161,"c":0.167},
{"d":"2022-12-30","o":0.166,"h":0.17,"l":0.164,"c":0.167},
{"d":"2022-12-31","o":0.167,"h":0.169,"l":0.161,"c":0.163},
{"d":"2023-01-01","o":0.163,"h":0.164,"l":0.161,"c":0.162},
{"d":"2023-01-02","o":0.162,"h":0.17,"l":0.158,"c":0.167},
{"d":"2023-01-03","o":0.164,"h":0.185,"l":0.163,"c":0.176},
{"d":"2023-01-04","o":0.176,"h":0.192,"l":0.174,"c":0.184},
{"d":"2023-01-05","o":0.183,"h":0.195,"l":0.182,"c":0.19},
{"d":"2023-01-06","o":0.19,"h":0.204,"l":0.188,"c":0.203},
{"d":"2023-01-07","o":0.2035,"h":0.2138,"l":0.2,"c":0.2087},
{"d":"2023-01-08","o":0.2089,"h":0.2091,"l":0.1984,"c":0.2005}
]},
"layer":[
{"data":{"values":[
{"d":"2023-04-05T14:00:00Z","d2":"2023-04-30T20:00:00Z","p":0.0814,"p2":2.247},
{"d":"2021-08-04T12:00:00Z","d2":"2023-04-05T14:00:00Z","p":0.0814,"p2":0.0901}
],"format":{"parse":{"d":"date","d2":"date"}}},
"mark":{"type":"rect","fill":"#d1d4dc","clip":false},
"encoding":{
"x":{"field":"d","type":"temporal","axis":null,"scale":{"type":"utc","domain":["2021-08-04T12:14:00Z","2023-04-05T14:00:00Z"],"nice":false}},
"x2":{"field":"d2"},
"y":{"field":"p","type":"quantitative","axis":null,"scale":{"type":"log","domain":[0.0901,2.247],"nice":false,"zero":false}},
"y2":{"field":"p2"}}},
{"data":{"name":"candles"},
"mark":{"type":"rule","strokeWidth":1.1},
"encoding":{
"x":{"field":"d","type":"temporal","axis":{"title":null,"orient":"bottom","labels":false,"ticks":false,"domain":false,"grid":true,"gridColor":"#c2c5cf","gridWidth":1,"zindex":0,
"values":["2021-09-01","2021-10-01","2021-11-01","2021-12-01","2022-01-01","2022-02-01","2022-04-01","2022-05-01","2022-06-01","2022-07-01","2022-08-01","2022-09-01","2022-10-01","2022-11-01","2022-12-01","2023-01-01","2023-02-01","2023-04-01"]}},
"y":{"field":"l","type":"quantitative","axis":{"title":null,"orient":"right","labels":false,"ticks":false,"domain":false,"grid":true,"gridColor":"#c2c5cf","gridWidth":1,"zindex":0,
"values":[1.9,1.7,1.5,1.3,1.15,1.0,0.85,0.75,0.65,0.57,0.51,0.45,0.39,0.33,0.29,0.26,0.23,0.205,0.18,0.16,0.14,0.124,0.11,0.098]}},
"y2":{"field":"h"},
"color":{"condition":{"test":"datum.c>=datum.o","value":"#089981"},"value":"#f23645"}}},
{"data":{"name":"candles"},
"mark":{"type":"rule","strokeWidth":2.9},
"encoding":{
"x":{"field":"d","type":"temporal","axis":null},
"y":{"field":"o","type":"quantitative","axis":null},
"y2":{"field":"c"},
"color":{"condition":{"test":"datum.c>=datum.o","value":"#089981"},"value":"#f23645"}}},
{"data":{"values":[{"d":"2023-01-06T20:00:00Z","d2":"2023-02-13T00:00:00Z","p":0.1857,"p2":0.2901}],"format":{"parse":{"d":"date","d2":"date"}}},
"mark":{"type":"rect","fill":"#2962ff","opacity":0.167},
"encoding":{"x":{"field":"d","type":"temporal","axis":null},"x2":{"field":"d2"},"y":{"field":"p","type":"quantitative","axis":null},"y2":{"field":"p2"}}},
{"data":{"values":[{"d":"2023-01-06T20:00:00Z","d2":"2023-02-13T00:00:00Z","p":0.1857},{"d":"2023-01-06T20:00:00Z","d2":"2023-02-13T00:00:00Z","p":0.2901}],"format":{"parse":{"d":"date","d2":"date"}}},
"mark":{"type":"rule","stroke":"#2962ff","strokeWidth":1},
"encoding":{"x":{"field":"d","type":"temporal","axis":null},"x2":{"field":"d2"},"y":{"field":"p","type":"quantitative","axis":null}}},
{"data":{"values":[{"d":"2023-01-25T14:00:00Z","p":0.1857,"p2":0.2901}]},
"mark":{"type":"rule","stroke":"#2962ff","strokeWidth":1},
"encoding":{"x":{"field":"d","type":"temporal","axis":null},"y":{"field":"p","type":"quantitative","axis":null},"y2":{"field":"p2"}}},
{"data":{"values":[{"d":"2023-01-23T18:00:00Z","p":0.2859},{"d":"2023-01-25T14:00:00Z","p":0.2901},{"d":"2023-01-27T10:00:00Z","p":0.2859}]},
"mark":{"type":"line","stroke":"#2962ff","strokeWidth":1},
"encoding":{"x":{"field":"d","type":"temporal","axis":null},"y":{"field":"p","type":"quantitative","axis":null}}},
{"data":{"values":[{"p":1.439},{"p":0.1152}]},
"mark":{"type":"rule","stroke":"#787b86","strokeWidth":1,"strokeDash":[1,2]},
"encoding":{"y":{"field":"p","type":"quantitative","axis":null}}},
{"data":{"values":[{"d":"2021-10-29T00:00:00Z","p":1.526},{"d":"2023-01-25T00:00:00Z","p":0.1674}]},
"mark":{"type":"line","stroke":"#2a2e39","strokeWidth":1},
"encoding":{"x":{"field":"d","type":"temporal","axis":null},"y":{"field":"p","type":"quantitative","axis":null}}},
{"data":{"values":[{"d":"2023-01-01T00:00:00Z","d2":"2023-02-19T00:00:00Z","p":0.301,"p2":0.3292}],"format":{"parse":{"d":"date","d2":"date"}}},
"mark":{"type":"rect","fill":"#ffffff","cornerRadius":3,"stroke":"#c8cad2","strokeWidth":0.5},
"encoding":{"x":{"field":"d","type":"temporal","axis":null},"x2":{"field":"d2"},"y":{"field":"p","type":"quantitative","axis":null},"y2":{"field":"p2"}}},
{"data":{"values":[
{"d":"2023-01-25T14:00:00Z","p":0.3152,"label":"0.1044 (56.19%) 1044"}
]},
"mark":{"type":"text","fontSize":11.6,"color":"#2a2e39","align":"center","baseline":"middle"},
"encoding":{"x":{"field":"d","type":"temporal","axis":null},"y":{"field":"p","type":"quantitative","axis":null},"text":{"field":"label"}}},
{"data":{"values":[
{"d":"2021-08-04T03:00:00Z","p":2.347,"label":"Worldofchartsfx published on TradingView.com, Jan 08, 2023 04:39 UTC+1"},
{"d":"2023-04-05T20:00:00Z","p":0.205,"label":"0.2050"}
]},
"mark":{"type":"text","fontSize":12,"color":"#2a2e39","align":"left","baseline":"middle","clip":false},
"encoding":{
"x":{"field":"d","type":"temporal","axis":{"title":null,"orient":"bottom","grid":false,"ticks":false,"domain":false,"tickSize":0,"labelPadding":14,"labelBaseline":"middle","labelAlign":"center","labelFont":"Lato","labelFontSize":12,"labelColor":"#2a2e39","labelOverlap":false,"labelFlush":false,"zindex":1,
"values":["2021-09-01","2021-10-01","2021-11-01","2021-12-01","2022-01-01","2022-02-01","2022-04-01","2022-05-01","2022-06-01","2022-07-01","2022-08-01","2022-09-01","2022-10-01","2022-11-01","2022-12-01","2023-01-01","2023-02-01","2023-04-01"],
"labelExpr":"utcmonth(datum.value)==0?utcFormat(datum.value,'%Y'):utcFormat(datum.value,'%b')",
"labelFontWeight":{"condition":{"test":"utcmonth(datum.value)==0","value":"bold"},"value":"normal"}}},
"y":{"field":"p","type":"quantitative","axis":{"title":null,"orient":"right","grid":false,"ticks":false,"domain":false,"tickSize":0,"labelPadding":10,"labelAlign":"left","labelBaseline":"middle","labelFont":"Lato","labelFontSize":12,"labelColor":"#2a2e39","labelOverlap":false,"labelFlush":false,"zindex":1,"format":".4f",
"values":[1.9,1.7,1.5,1.3,1.15,1.0,0.85,0.75,0.65,0.57,0.51,0.45,0.39,0.33,0.29,0.26,0.23,0.18,0.16,0.14,0.124,0.11,0.098]}},
"text":{"field":"label"}}},
{"data":{"values":[
{"d":"2021-08-07T12:00:00Z","p":2.131,"label":"OCEAN / TetherUS, 1D, BINANCE"},
{"d":"2021-10-13T17:00:00Z","p":2.131,"label":"O"},
{"d":"2021-11-01T22:00:00Z","p":2.131,"label":"H"},
{"d":"2021-11-20T19:00:00Z","p":2.131,"label":"L"},
{"d":"2021-12-09T05:00:00Z","p":2.131,"label":"C"}
]},
"mark":{"type":"text","fontSize":11.6,"color":"#2a2e39","align":"left","baseline":"middle"},
"encoding":{"x":{"field":"d","type":"temporal","axis":null},"y":{"field":"p","type":"quantitative","axis":null},"text":{"field":"label"}}},
{"data":{"values":[
{"d":"2021-10-16T17:00:00Z","p":2.131,"label":"0.2089"},
{"d":"2021-11-04T18:00:00Z","p":2.131,"label":"0.2091"},
{"d":"2021-11-22T23:00:00Z","p":2.131,"label":"0.1984"},
{"d":"2021-12-11T14:00:00Z","p":2.131,"label":"0.2005"},
{"d":"2021-12-27T19:00:00Z","p":2.131,"label":"−0.0082"},
{"d":"2022-01-13T19:00:00Z","p":2.131,"label":"(−3.93%)"}
]},
"mark":{"type":"text","fontSize":11.6,"color":"#f23645","align":"left","baseline":"middle"},
"encoding":{"x":{"field":"d","type":"temporal","axis":null},"y":{"field":"p","type":"quantitative","axis":null},"text":{"field":"label"}}},
{"data":{"values":[{"d":"2023-04-05T14:00:00Z","d2":"2023-04-28T22:00:00Z","p":0.1943,"p2":0.2064}],"format":{"parse":{"d":"date","d2":"date"}}},
"mark":{"type":"rect","fill":"#f23645","clip":false},
"encoding":{"x":{"field":"d","type":"temporal","axis":null},"x2":{"field":"d2"},"y":{"field":"p","type":"quantitative","axis":null},"y2":{"field":"p2"}}},
{"data":{"values":[{"d":"2023-04-17T20:00:00Z","p":0.2,"label":"20:21:29"}]},
"mark":{"type":"text","fontSize":12,"fontWeight":"bold","color":"#ffffff","align":"center","baseline":"middle"},
"encoding":{"x":{"field":"d","type":"temporal","axis":null},"y":{"field":"p","type":"quantitative","axis":null},"text":{"field":"label"}}},
{"data":{"values":[{"d":"2023-04-14T12:00:00Z","p":2.11,"label":"USDT"}]},
"mark":{"type":"text","fontSize":10.5,"color":"#2a2e39","align":"center","baseline":"middle"},
"encoding":{"x":{"field":"d","type":"temporal","axis":null},"y":{"field":"p","type":"quantitative","axis":null},"text":{"field":"label"}}},
{"data":{"values":[{"d":"2021-08-08T01:00:00Z","p":0.0766}]},
"mark":{"type":"point","filled":true,"fill":"#131722","stroke":null,"opacity":1,"size":361,"clip":false,
"shape":"M-.222 .5H-.611V-.111H-1V-.5H-.222ZM.556 .5H.111L.528 -.5H.972ZM.111 -.556A.222 .222 0 1 1 .111 -.111A.222 .222 0 1 1 .111 -.556Z"},
"encoding":{"x":{"field":"d","type":"temporal","axis":null},"y":{"field":"p","type":"quantitative","axis":null}}},
{"data":{"values":[{"d":"2021-08-13T10:00:00Z","p":0.0766,"label":"TradingView"}]},
"mark":{"type":"text","fontSize":13,"color":"#2a2e39","align":"left","baseline":"middle","clip":false},
"encoding":{"x":{"field":"d","type":"temporal","axis":null},"y":{"field":"p","type":"quantitative","axis":null},"text":{"field":"label"}}}
]
}
